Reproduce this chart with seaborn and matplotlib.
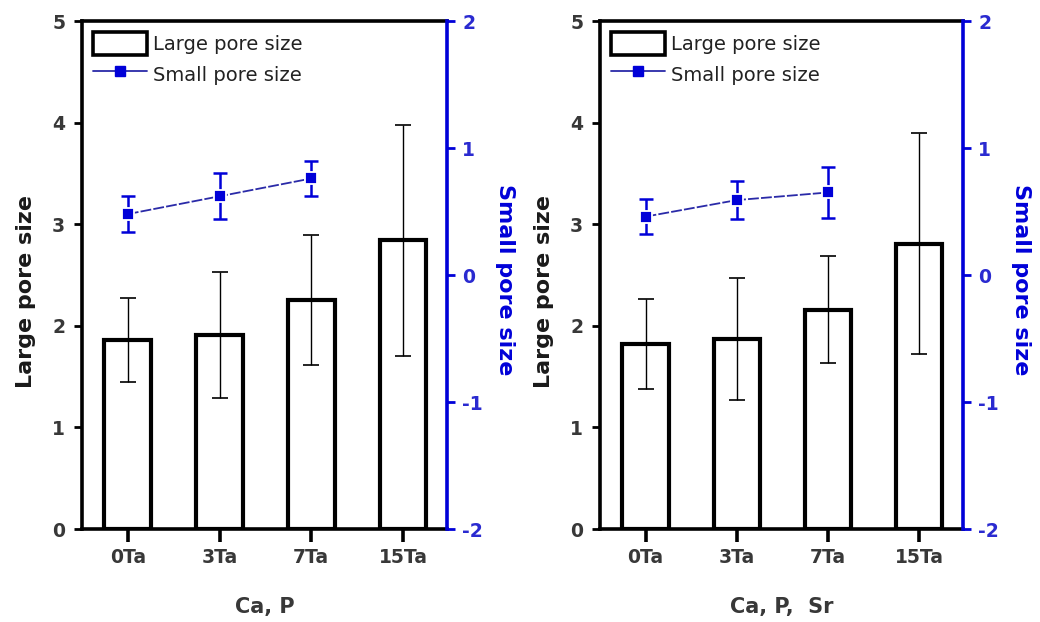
import numpy as np
import pandas as pd
import matplotlib
matplotlib.use("Agg")
import matplotlib.pyplot as plt
import seaborn as sns
from matplotlib.patches import Patch
from matplotlib.lines import Line2D

# Sample groups (Ta content)
categories = ["0Ta", "3Ta", "7Ta", "15Ta"]

# Ca, P series
large_cap = [1.86, 1.91, 2.25, 2.84]
large_cap_err = [0.41, 0.62, 0.64, 1.14]
small_cap = [0.48, 0.62, 0.76]
small_cap_err = [0.14, 0.18, 0.14]

# Ca, P, Sr series
large_caps = [1.82, 1.87, 2.16, 2.81]
large_caps_err = [0.44, 0.60, 0.53, 1.09]
small_caps = [0.46, 0.59, 0.65]
small_caps_err = [0.14, 0.15, 0.20]

panel_titles = ["Ca, P", "Ca, P,  Sr"]

BLUE = "#0000d8"
LINE_BLUE = "#2a2aa8"
TEXT = "#383838"

sns.set_theme(style="white")
plt.rcParams["font.family"] = ["DejaVu Sans"]
plt.rcParams["axes.unicode_minus"] = False

fig = plt.figure(figsize=(10.4, 6.22), dpi=100)
ax_pos = [[0.0788, 0.1495, 0.351, 0.8167], [0.5769, 0.1495, 0.349, 0.8167]]

panels = [
    (large_cap, large_cap_err, small_cap, small_cap_err),
    (large_caps, large_caps_err, small_caps, small_caps_err),
]

for i, (lg, lg_err, sm, sm_err) in enumerate(panels):
    ax = fig.add_axes(ax_pos[i])
    df = pd.DataFrame({"group": categories, "size": lg})
    sns.barplot(data=df, x="group", y="size", ax=ax, width=0.51,
                facecolor="white", edgecolor="black", linewidth=3.0,
                errorbar=None)
    ax.errorbar(np.arange(len(categories)), lg, yerr=lg_err, fmt="none",
                ecolor="black", elinewidth=1.0, capsize=6, capthick=1.2,
                zorder=5)
    ax.set_xlim(-0.5, 3.48)
    ax.set_ylim(0, 5)
    ax.set_yticks([0, 1, 2, 3, 4, 5])
    ax.set_xlabel(panel_titles[i], fontsize=15, fontweight="bold",
                  color=TEXT, labelpad=21)
    ax.set_ylabel("Large pore size", fontsize=16, fontweight="bold",
                  color="#1a1a1a")
    ax.yaxis.set_label_coords(-0.127, 0.468)
    for s in ["left", "bottom", "top"]:
        ax.spines[s].set_color("black")
        ax.spines[s].set_linewidth(2.6)
    ax.spines["right"].set_visible(False)
    ax.tick_params(axis="x", direction="out", length=9, width=2.6,
                   colors="black", labelcolor=TEXT, labelsize=13.5, pad=5,
                   bottom=True)
    ax.tick_params(axis="y", direction="out", length=6, width=2,
                   colors="black", labelcolor=TEXT, labelsize=13.5, pad=6,
                   left=True)
    for lab in ax.get_xticklabels() + ax.get_yticklabels():
        lab.set_fontweight("bold")

    # Small pore size on the secondary axis
    ax2 = ax.twinx()
    sdf = pd.DataFrame({"pos": np.arange(len(sm)), "size": sm})
    sns.lineplot(data=sdf, x="pos", y="size", ax=ax2, color=LINE_BLUE,
                 linewidth=1.3, dashes=False, linestyle=(0, (6, 1.2)),
                 marker="s", markersize=8, markerfacecolor=BLUE,
                 markeredgecolor="white", markeredgewidth=1.3, zorder=6)
    ax2.errorbar(np.arange(len(sm)), sm, yerr=sm_err, fmt="none",
                 ecolor=BLUE, elinewidth=1.8, capsize=5, capthick=1.8,
                 zorder=5)
    ax2.set_ylim(-2, 2)
    ax2.set_yticks([-2, -1, 0, 1, 2])
    ax2.set_xlim(-0.5, 3.48)
    ax2.set_xlabel("")
    ax2.set_ylabel("Small pore size", fontsize=16, fontweight="bold",
                   color=BLUE, rotation=270, va="center")
    ax2.yaxis.set_label_coords(1.16, 0.49)
    for s in ["left", "bottom", "top"]:
        ax2.spines[s].set_visible(False)
    ax2.spines["right"].set_visible(True)
    ax2.spines["right"].set_color(BLUE)
    ax2.spines["right"].set_linewidth(2.6)
    ax2.tick_params(axis="y", direction="out", length=6, width=2,
                    colors=BLUE, labelcolor="#2a2ad0", labelsize=13.5, pad=5,
                    right=True)
    for lab in ax2.get_yticklabels():
        lab.set_fontweight("bold")
    ax2.grid(False)
    ax.grid(False)

    handles = [
        Patch(facecolor="white", edgecolor="black", linewidth=2.6),
        Line2D([0], [0], color=LINE_BLUE, linewidth=1.3, marker="s",
               markersize=7, markerfacecolor=BLUE, markeredgecolor=BLUE),
    ]
    ax2.legend(handles, ["Large pore size", "Small pore size"],
               loc="upper left", bbox_to_anchor=(0.0, 1.0), frameon=False,
               prop={"family": "DejaVu Sans", "size": 14},
               labelcolor="#222222",
               handlelength=2.8, handleheight=1.5, handletextpad=0.3,
               labelspacing=0.35, borderaxespad=0.35, borderpad=0.2)

fig.savefig("out.png", dpi=100, facecolor="white")
